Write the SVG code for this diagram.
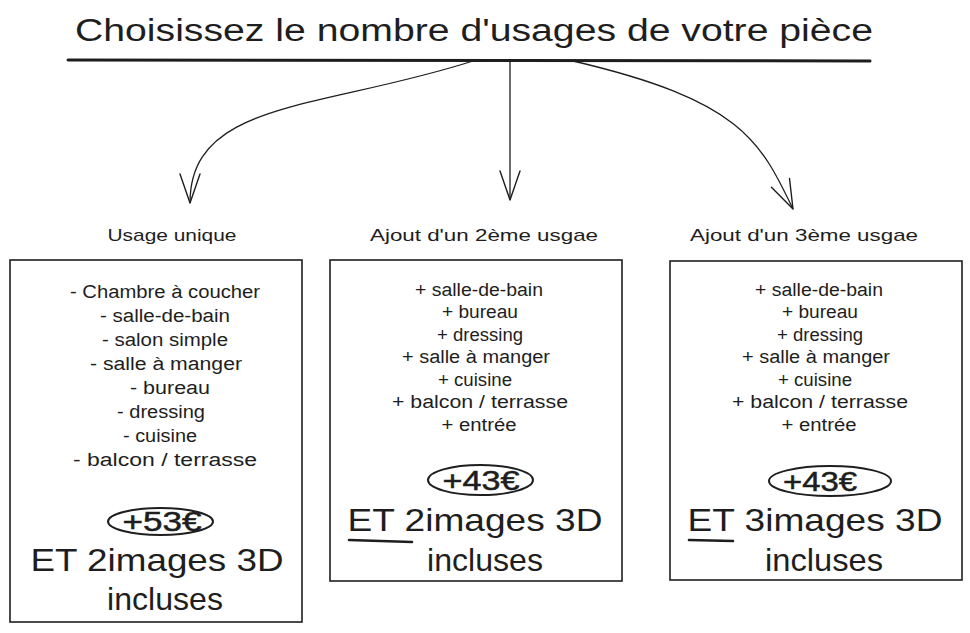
<svg xmlns="http://www.w3.org/2000/svg" width="970" height="633" viewBox="0 0 970 633">
<style>
text{font-family:"Liberation Sans","DejaVu Sans",sans-serif;fill:#1e1e1e;text-anchor:middle}
.title{font-size:31px}
.hdr{font-size:17px}
.item{font-size:18px}
.price{font-size:27px;stroke:#1e1e1e;stroke-width:0.5}
.big{font-size:32px}
.box{fill:#fff;stroke:#1e1e1e;stroke-width:1.6}
.oval{fill:none;stroke:#1e1e1e;stroke-width:2}
.conn{fill:none;stroke:#1e1e1e;stroke-width:1.3}
.ul{stroke:#1e1e1e;stroke-linecap:round;fill:none}
</style>
<defs>
<marker id="arr" markerUnits="userSpaceOnUse" markerWidth="40" markerHeight="30" viewBox="-32 -15 34 30" refX="0" refY="0" orient="auto" overflow="visible">
<path d="M-29,-10 L0,0 L-29,10" fill="none" stroke="#1e1e1e" stroke-width="1.4" stroke-linecap="round" stroke-linejoin="round"/>
</marker>
</defs>
<rect width="970" height="633" fill="#fff"/>

<g id="title">
<text class="title" x="474" y="41" textLength="798" lengthAdjust="spacingAndGlyphs">Choisissez le nombre d'usages de votre pièce</text>
<path class="ul" d="M68,60 L870,61" stroke-width="3"/>
</g>

<g id="connectors">
<path class="conn" d="M473,61 C320,110 190,100 190,203" marker-end="url(#arr)"/>
<path class="conn" d="M510,61 L510,200" marker-end="url(#arr)"/>
<path class="conn" d="M573,61 C740,100 760,140 793,209" marker-end="url(#arr)"/>
</g>

<g id="node1">
<text class="hdr" x="172" y="241" textLength="129" lengthAdjust="spacingAndGlyphs">Usage unique</text>
<rect class="box" x="10" y="260" width="292" height="362"/>
<text class="item" x="165" y="298" textLength="190" lengthAdjust="spacingAndGlyphs">- Chambre à coucher</text>
<text class="item" x="165" y="322" textLength="130" lengthAdjust="spacingAndGlyphs">- salle-de-bain</text>
<text class="item" x="165" y="346" textLength="126" lengthAdjust="spacingAndGlyphs">- salon simple</text>
<text class="item" x="166" y="370" textLength="152" lengthAdjust="spacingAndGlyphs">- salle à manger</text>
<text class="item" x="170" y="394" textLength="80" lengthAdjust="spacingAndGlyphs">- bureau</text>
<text class="item" x="161" y="418" textLength="88" lengthAdjust="spacingAndGlyphs">- dressing</text>
<text class="item" x="160" y="442" textLength="74" lengthAdjust="spacingAndGlyphs">- cuisine</text>
<text class="item" x="165" y="466" textLength="184" lengthAdjust="spacingAndGlyphs">- balcon / terrasse</text>
<ellipse class="oval" cx="160.5" cy="521.5" rx="52.5" ry="13.5"/>
<text class="price" x="162" y="531" textLength="79" lengthAdjust="spacingAndGlyphs">+53€</text>
<text class="big" x="157" y="571" textLength="253" lengthAdjust="spacingAndGlyphs">ET 2images 3D</text>
<text class="big" x="165" y="610" textLength="116" lengthAdjust="spacingAndGlyphs">incluses</text>
</g>

<g id="node2">
<text class="hdr" x="484" y="241" textLength="228" lengthAdjust="spacingAndGlyphs">Ajout d'un 2ème usgae</text>
<rect class="box" x="330" y="260" width="292" height="321"/>
<text class="item" x="479" y="296" textLength="128" lengthAdjust="spacingAndGlyphs">+ salle-de-bain</text>
<text class="item" x="480" y="318" textLength="76" lengthAdjust="spacingAndGlyphs">+ bureau</text>
<text class="item" x="480" y="341" textLength="86" lengthAdjust="spacingAndGlyphs">+ dressing</text>
<text class="item" x="476" y="363" textLength="148" lengthAdjust="spacingAndGlyphs">+ salle à manger</text>
<text class="item" x="475" y="386" textLength="74" lengthAdjust="spacingAndGlyphs">+ cuisine</text>
<text class="item" x="480" y="408" textLength="176" lengthAdjust="spacingAndGlyphs">+ balcon / terrasse</text>
<text class="item" x="479" y="431" textLength="75" lengthAdjust="spacingAndGlyphs">+ entrée</text>
<ellipse class="oval" cx="480.5" cy="480" rx="52.5" ry="15"/>
<text class="price" x="481" y="490" textLength="77" lengthAdjust="spacingAndGlyphs">+43€</text>
<text class="big" x="475" y="531" textLength="255" lengthAdjust="spacingAndGlyphs">ET 2images 3D</text>
<path class="ul" d="M349,540 L412,542" stroke-width="2.6"/>
<text class="big" x="485" y="571" textLength="116" lengthAdjust="spacingAndGlyphs">incluses</text>
</g>

<g id="node3">
<text class="hdr" x="804" y="241" textLength="228" lengthAdjust="spacingAndGlyphs">Ajout d'un 3ème usgae</text>
<rect class="box" x="670" y="261" width="292" height="319"/>
<text class="item" x="819" y="296" textLength="128" lengthAdjust="spacingAndGlyphs">+ salle-de-bain</text>
<text class="item" x="820" y="318" textLength="76" lengthAdjust="spacingAndGlyphs">+ bureau</text>
<text class="item" x="820" y="341" textLength="86" lengthAdjust="spacingAndGlyphs">+ dressing</text>
<text class="item" x="816" y="363" textLength="148" lengthAdjust="spacingAndGlyphs">+ salle à manger</text>
<text class="item" x="815" y="386" textLength="74" lengthAdjust="spacingAndGlyphs">+ cuisine</text>
<text class="item" x="820" y="408" textLength="176" lengthAdjust="spacingAndGlyphs">+ balcon / terrasse</text>
<text class="item" x="819" y="431" textLength="75" lengthAdjust="spacingAndGlyphs">+ entrée</text>
<ellipse class="oval" cx="830" cy="481" rx="61" ry="15"/>
<text class="price" x="820" y="491" textLength="74" lengthAdjust="spacingAndGlyphs">+43€</text>
<text class="big" x="815" y="531" textLength="255" lengthAdjust="spacingAndGlyphs">ET 3images 3D</text>
<path class="ul" d="M689,540 L733,541" stroke-width="2.6"/>
<text class="big" x="824" y="571" textLength="118" lengthAdjust="spacingAndGlyphs">incluses</text>
</g>
</svg>
